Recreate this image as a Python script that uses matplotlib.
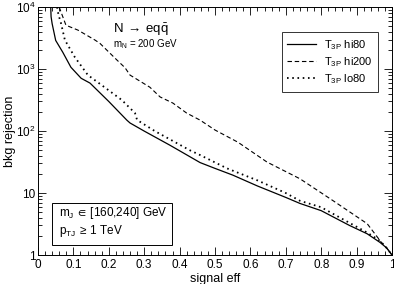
import matplotlib
matplotlib.use("Agg")
import matplotlib.pyplot as plt
from matplotlib.patches import Rectangle
from matplotlib.ticker import MultipleLocator, LogLocator, NullFormatter

plt.rcParams['font.family'] = ['Liberation Sans', 'DejaVu Sans']
plt.rcParams['mathtext.default'] = 'regular'

# T_3P hi80 (solid)
eff_hi80 = [0.036, 0.037, 0.040, 0.050, 0.070, 0.093, 0.122, 0.147, 0.20, 0.251, 0.26, 0.30,
            0.373, 0.458, 0.50, 0.55, 0.62, 0.70, 0.74, 0.80, 0.88, 0.93, 0.966, 0.985, 1.0]
rej_hi80 = [1e4, 7000, 5400, 2900, 1870, 1070, 710, 594, 300, 150, 135, 100,
            59, 31, 25, 19.5, 13, 8.5, 6.8, 5.2, 3.0, 2.2, 1.6, 1.3, 1.0]

# T_3P hi200 (dashed)
eff_hi200 = [0.060, 0.070, 0.079, 0.113, 0.161, 0.175, 0.223, 0.246, 0.26, 0.316, 0.345, 0.381,
             0.42, 0.458, 0.50, 0.565, 0.647, 0.74, 0.834, 0.93, 0.97, 0.99, 1.0]
rej_hi200 = [1e4, 7000, 5100, 4250, 2940, 2600, 1400, 1050, 800, 510, 355, 283,
             195, 150, 104, 66, 31.6, 17, 7.5, 3.2, 1.6, 1.2, 1.0]

# T_3P lo80 (dotted)
eff_lo80 = [0.054, 0.058, 0.065, 0.076, 0.104, 0.141, 0.18, 0.237, 0.274, 0.28, 0.33, 0.429,
            0.458, 0.534, 0.62, 0.70, 0.74, 0.80, 0.88, 0.93, 0.966, 0.985, 1.0]
rej_lo80 = [1e4, 7500, 5500, 2940, 1560, 800, 550, 316, 195, 151, 100, 49,
            41, 25, 16, 10, 7.5, 5.9, 3.3, 2.3, 1.7, 1.3, 1.0]

xticks = [0, 0.1, 0.2, 0.3, 0.4, 0.5, 0.6, 0.7, 0.8, 0.9, 1]
xticklabels = ["0", "0.1", "0.2", "0.3", "0.4", "0.5", "0.6", "0.7", "0.8", "0.9", "1"]
yticks = [1, 10, 100, 1000, 10000]
yticklabels = ["1", "10", "10$^2$", "10$^3$", "10$^4$"]

fig = plt.figure(figsize=(3.94, 2.84), dpi=100)
ax = fig.add_axes([0.0964, 0.102, 0.8985, 0.873])

ax.plot(eff_hi80, rej_hi80, color="black", lw=0.9, label="T$_{3P}$ hi80")
ax.plot(eff_hi200, rej_hi200, color="black", lw=0.8, dashes=(4, 2.5), label="T$_{3P}$ hi200")
ax.plot(eff_lo80, rej_lo80, color="black", lw=1.3, dashes=(0.9, 2.0), label="T$_{3P}$ lo80")

ax.set_yscale("log")
ax.set_xlim(0, 1)
ax.set_ylim(1, 1e4)
ax.set_xticks(xticks)
ax.set_xticklabels(xticklabels)
ax.xaxis.set_minor_locator(MultipleLocator(0.02))
ax.set_yticks(yticks)
ax.set_yticklabels(yticklabels)
ax.yaxis.set_minor_locator(LogLocator(base=10, subs=range(2, 10)))
ax.yaxis.set_minor_formatter(NullFormatter())
ax.tick_params(which="both", direction="in", top=True, right=True, labelsize=8.5, width=0.6)
ax.tick_params(which="major", length=6)
ax.tick_params(which="minor", length=3)
ax.tick_params(axis="x", pad=3)
ax.tick_params(axis="y", pad=2)
for s in ax.spines.values():
    s.set_linewidth(0.7)

ax.set_xlabel("signal eff", fontsize=9, labelpad=1)
ax.set_ylabel("bkg rejection", fontsize=9, labelpad=0)

leg = ax.legend(loc="upper right", bbox_to_anchor=(0.977, 0.92), fontsize=8, frameon=True,
                fancybox=False, edgecolor="black", handlelength=2.6, borderpad=0.5,
                labelspacing=0.3, handletextpad=0.7)
leg.get_frame().set_linewidth(0.7)

ax.text(0.212, 0.907, "N$\\,$$\\rightarrow$$\\,$eq$\\bar{q}$", transform=ax.transAxes,
        fontsize=9.5, va="center")
ax.text(0.212, 0.851, "m$_N$ = 200 GeV", transform=ax.transAxes, fontsize=7, va="center")

ax.add_patch(Rectangle((0.04, 0.04), 0.338, 0.17, transform=ax.transAxes, fill=False,
                       edgecolor="black", lw=0.7))
ax.text(0.058, 0.169, "m$_J$$\\,$$\\in$$\\,$[160,240] GeV", transform=ax.transAxes,
        fontsize=8.5, va="center")
ax.text(0.058, 0.097, "p$_{TJ}$$\\,$$\\geq$$\\,$1 TeV", transform=ax.transAxes,
        fontsize=8.5, va="center")

fig.savefig("out.png", dpi=100)
